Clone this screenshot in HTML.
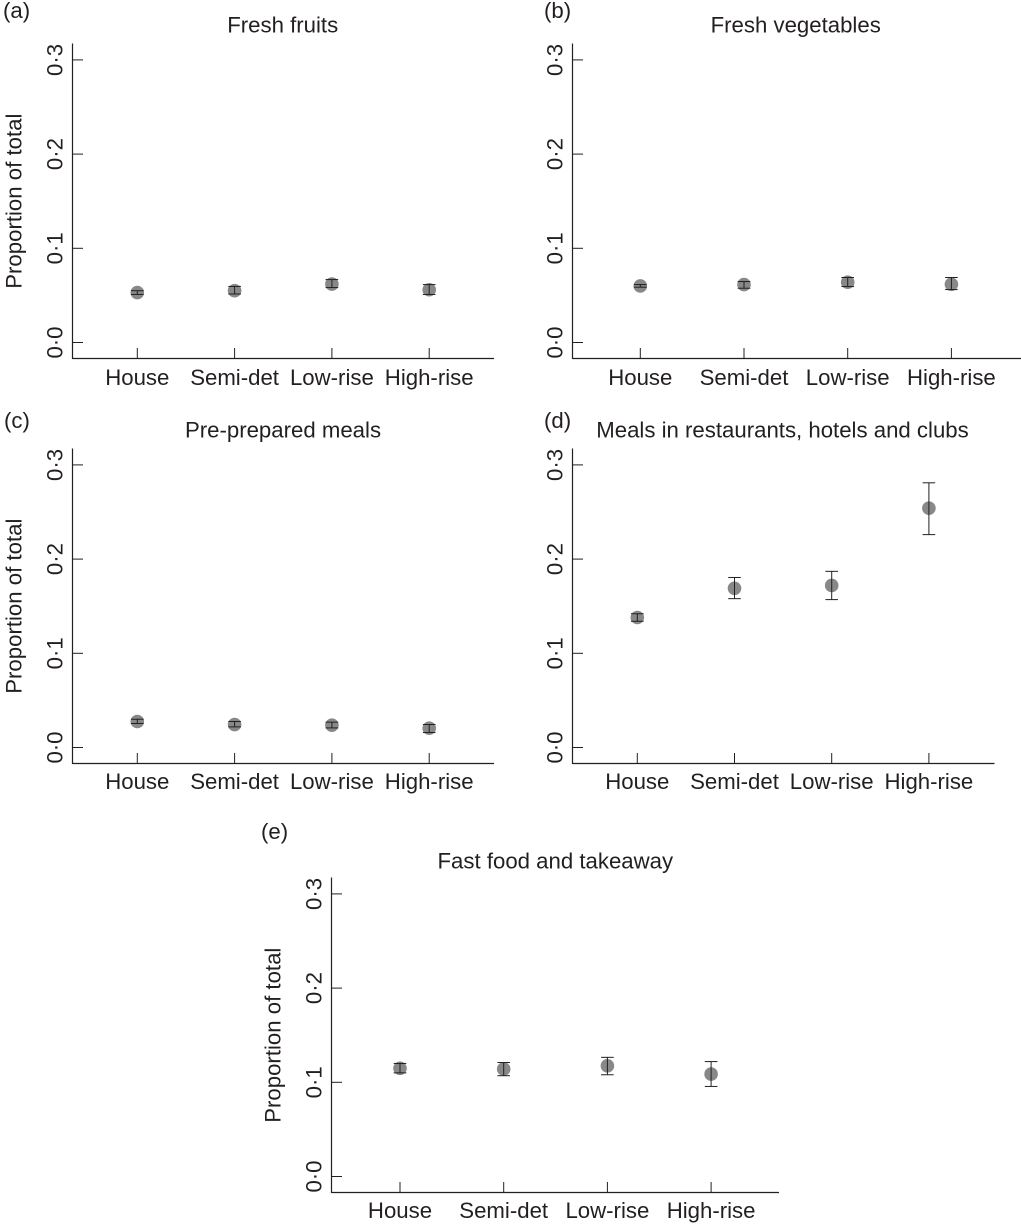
<!DOCTYPE html>
<html lang="en">
<head>
<meta charset="utf-8">
<title>Proportion of total food expenditure by dwelling type</title>
<style>
html,body{margin:0;padding:0;background:#fff;}
svg{display:block;}
text{font-family:"Liberation Sans",sans-serif;font-size:22.2px;fill:#231f20;}
</style>
</head>
<body>
<svg id="chart" xmlns="http://www.w3.org/2000/svg" width="1021" height="1226" viewBox="0 0 1021 1226"></svg>
<script>
const categories = ["House", "Semi-det", "Low-rise", "High-rise"];
const tickValues = [0, 0.1, 0.2, 0.3];
const tickLabels = ["0·0", "0·1", "0·2", "0·3"];
const yAxisTitle = "Proportion of total";

const freshFruitsMean = [0.053, 0.055, 0.062, 0.056];
const freshFruitsLow  = [0.051, 0.0515, 0.0583, 0.051];
const freshFruitsHigh = [0.055, 0.0595, 0.0668, 0.0615];

const freshVegMean = [0.060, 0.0615, 0.064, 0.0618];
const freshVegLow  = [0.0587, 0.0576, 0.0594, 0.0562];
const freshVegHigh = [0.0615, 0.0647, 0.069, 0.069];

const prePreparedMean = [0.0276, 0.0244, 0.0237, 0.0205];
const prePreparedLow  = [0.0255, 0.0219, 0.0208, 0.0159];
const prePreparedHigh = [0.030, 0.0276, 0.0269, 0.0244];

const restaurantMean = [0.138, 0.169, 0.172, 0.254];
const restaurantLow  = [0.134, 0.158, 0.157, 0.226];
const restaurantHigh = [0.142, 0.1805, 0.187, 0.281];

const fastFoodMean = [0.1148, 0.114, 0.1175, 0.1087];
const fastFoodLow  = [0.110, 0.107, 0.108, 0.0956];
const fastFoodHigh = [0.120, 0.121, 0.1265, 0.122];

const panels = [
  {id:"a", title:"Fresh fruits", mean:freshFruitsMean, low:freshFruitsLow, high:freshFruitsHigh,
   axisX:72.5, axisRight:494, zeroY:342.5, firstX:137.3, stepX:97.3, showTitle:true, labelDy:26.4,
   titleX:282.7, titleY:32.7, tagX:3, tagY:18},
  {id:"b", title:"Fresh vegetables", mean:freshVegMean, low:freshVegLow, high:freshVegHigh,
   axisX:572.5, axisRight:1021, zeroY:342.5, firstX:640.3, stepX:103.7, showTitle:false, labelDy:26.4,
   titleX:795.7, titleY:32.7, tagX:544, tagY:18},
  {id:"c", title:"Pre-prepared meals", mean:prePreparedMean, low:prePreparedLow, high:prePreparedHigh,
   axisX:72.5, axisRight:494, zeroY:747.5, firstX:137.3, stepX:97.3, showTitle:true, labelDy:25.7,
   titleX:283, titleY:437.7, tagX:4, tagY:428},
  {id:"d", title:"Meals in restaurants, hotels and clubs", mean:restaurantMean, low:restaurantLow, high:restaurantHigh,
   axisX:572.5, axisRight:994.5, zeroY:747.5, firstX:637.3, stepX:97.2, showTitle:false, labelDy:25.7,
   titleX:782.5, titleY:437.7, tagX:544, tagY:428},
  {id:"e", title:"Fast food and takeaway", mean:fastFoodMean, low:fastFoodLow, high:fastFoodHigh,
   axisX:331.5, axisRight:779, zeroY:1176.5, firstX:400, stepX:103.7, showTitle:true, labelDy:25.7,
   titleX:555.3, titleY:868.3, tagX:261, tagY:839}
];

const SVG_NS = "http://www.w3.org/2000/svg";
const INK = "#231f20";
const chart = document.getElementById("chart");
const PX_PER_UNIT = 942;

function drawLine(parent, x1, y1, x2, y2, width) {
  const l = document.createElementNS(SVG_NS, "line");
  l.setAttribute("x1", x1);
  l.setAttribute("y1", y1);
  l.setAttribute("x2", x2);
  l.setAttribute("y2", y2);
  l.setAttribute("stroke", INK);
  l.setAttribute("stroke-width", width);
  parent.appendChild(l);
  return l;
}

function drawText(parent, str, x, y, anchor, rotate) {
  const t = document.createElementNS(SVG_NS, "text");
  t.setAttribute("x", x);
  t.setAttribute("y", y);
  t.setAttribute("text-anchor", anchor);
  if (rotate) t.setAttribute("transform", "rotate(-90 " + x + " " + y + ")");
  t.textContent = str;
  parent.appendChild(t);
  return t;
}

panels.forEach(function (p) {
  const yScale = function (v) { return p.zeroY - v * PX_PER_UNIT; };
  const xScale = function (i) { return p.firstX + p.stepX * i; };
  const axisTop = p.zeroY - 299;
  const axisBottom = p.zeroY + 16;

  const g = document.createElementNS(SVG_NS, "g");
  
  
  chart.appendChild(g);

  const tag = drawText(g, "(" + p.id + ")", p.tagX, p.tagY, "start", false);
  
  

  const title = drawText(g, p.title, p.titleX, p.titleY, "middle", false);
  
  

  const yAxis = drawLine(g, p.axisX, axisTop, p.axisX, axisBottom + 0.5, 1.2);
  
  

  const xAxis = drawLine(g, p.axisX, axisBottom, p.axisRight, axisBottom, 1.2);
  
  

  tickValues.forEach(function (v, i) {
    const tick = drawLine(g, p.axisX, yScale(v), p.axisX + 10.5, yScale(v), 1);
    
    

    const label = drawText(g, tickLabels[i], p.axisX - 10.2, yScale(v), "middle", true);
    
    
  });

  if (p.showTitle) {
    const yTitle = drawText(g, yAxisTitle, p.axisX - 50.8, axisTop + 157.7, "middle", true);
    
    
  }

  categories.forEach(function (c, i) {
    const x = xScale(i);

    const tick = drawLine(g, x, axisBottom, x, axisBottom - 10.5, 1);
    
    

    const label = drawText(g, c, x, axisBottom + p.labelDy, "middle", false);
    
    

    const dot = document.createElementNS(SVG_NS, "circle");
    dot.setAttribute("cx", x);
    dot.setAttribute("cy", yScale(p.mean[i]));
    dot.setAttribute("r", 6.8);
    dot.setAttribute("fill", "#888888");
    
    
    g.appendChild(dot);

    const stem = drawLine(g, x, yScale(p.high[i]), x, yScale(p.low[i]), 1);
    
    

    const capHigh = drawLine(g, x - 6.3, yScale(p.high[i]), x + 6.3, yScale(p.high[i]), 1);
    
    

    const capLow = drawLine(g, x - 6.3, yScale(p.low[i]), x + 6.3, yScale(p.low[i]), 1);
    
    
  });
});
</script>
</body>
</html>
